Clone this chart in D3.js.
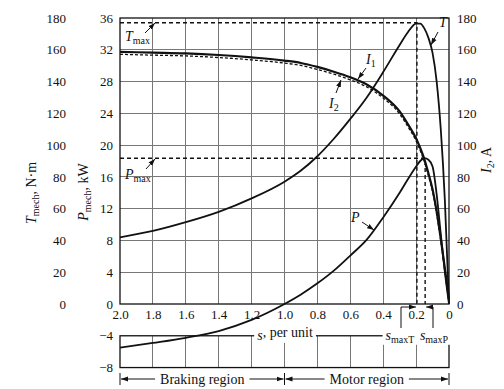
<!DOCTYPE html>
<html>
<head>
<meta charset="utf-8">
<script src="https://cdn.jsdelivr.net/npm/d3@7"></script>
<style>
body { margin: 0; background: #fff; }
svg text { font-family: "Liberation Serif", "DejaVu Serif", serif; fill: #111; }
</style>
</head>
<body>
<svg id="chart" width="504" height="389"></svg>
<script>
var slip     = [2.0, 1.8, 1.6, 1.4, 1.2, 1.0, 0.9, 0.8, 0.7, 0.6, 0.5, 0.4, 0.3, 0.25, 0.2, 0.175, 0.15, 0.125, 0.1, 0.075, 0.05, 0.025, 0];
var torque   = [42, 46, 51.5, 58, 66.5, 77, 84, 93, 104, 116.5, 130, 146, 163, 171, 176.5, 176.5, 173.5, 167.5, 158, 140, 110, 65, 0];  // N·m
var current1 = [158.7, 158.2, 157.7, 156.7, 155.2, 153.2, 151.7, 149.2, 146.2, 142.7, 138.2, 131.2, 121.2, 113.2, 104.2, 98.2, 91.2, 82.2, 72.2, 58.2, 41.2, 22.2, 3]; // A
var current2 = [157.5, 157, 156.5, 155.5, 154, 152, 150.5, 148, 145, 141.5, 137, 130, 120, 112, 103, 97, 90, 81, 71, 57, 40, 21, 1.5];  // A
var power    = [-5.5, -4.9, -4.25, -3.4, -2.0, 0, 1.2, 2.6, 4.2, 6.1, 8.1, 10.9, 14.0, 15.7, 17.3, 18.0, 18.35, 18.15, 17.3, 13.8, 8.8, 4.0, 0]; // kW

// axis ticks
var sTicks  = [2.0, 1.8, 1.6, 1.4, 1.2, 1.0, 0.8, 0.6, 0.4, 0.2, 0];
var sLabels = ["2.0", "1.8", "1.6", "1.4", "1.2", "1.0", "0.8", "0.6", "0.4", "0.2", "0"];
var pTicks  = [0, 4, 8, 12, 16, 20, 24, 28, 32, 36];
var pLow    = [-4, -8];
var tTicks  = [0, 20, 40, 60, 80, 100, 120, 140, 160, 180];
var iTicks  = [0, 20, 40, 60, 80, 100, 120, 140, 160, 180];

// maximum points
var Tmax = 177, sMaxT = 0.195;
var Pmax = 18.35, sMaxP = 0.145;

var svg = d3.select("#chart");
var x  = d3.scaleLinear().domain([2, 0]).range([120, 449]);
var y  = d3.scaleLinear().domain([0, 36]).range([304, 18]);    // P, kW
var y2 = d3.scaleLinear().domain([0, 180]).range([304, 18]);   // T, N·m and I2, A

svg.append("defs").append("marker")
    .attr("id", "arr")
    .attr("viewBox", "0 0 10 10")
    .attr("refX", 10).attr("refY", 5)
    .attr("markerWidth", 7).attr("markerHeight", 7)
    .attr("markerUnits", "userSpaceOnUse")
    .attr("orient", "auto-start-reverse")
    .append("path").attr("d", "M0,1.5L10,5L0,8.5Z").attr("fill", "#111");

// grid
var grid = svg.append("g").attr("stroke", "#777").attr("stroke-width", 1).attr("shape-rendering", "crispEdges");
grid.selectAll(".h").data(pTicks.slice(1, -1)).enter().append("line")
    .attr("x1", x(2)).attr("x2", x(0))
    .attr("y1", function(d) { return y(d) }).attr("y2", function(d) { return y(d) });
grid.selectAll(".v").data(sTicks.slice(1, -1)).enter().append("line")
    .attr("x1", function(d) { return x(d) }).attr("x2", function(d) { return x(d) })
    .attr("y1", y(36)).attr("y2", y(0));
grid.selectAll(".vl").data(sTicks.slice(1, -1)).enter().append("line")
    .attr("x1", function(d) { return x(d) }).attr("x2", function(d) { return x(d) })
    .attr("y1", y(-4)).attr("y2", y(-8));

// frames
var frame = svg.append("g").attr("stroke", "#111").attr("stroke-width", 1.3).attr("fill", "none");
frame.append("rect").attr("x", x(2)).attr("y", y(36)).attr("width", x(0) - x(2)).attr("height", y(0) - y(36));
frame.append("rect").attr("x", x(2)).attr("y", y(-4)).attr("width", x(0) - x(2)).attr("height", y(-8) - y(-4));

function styleAxis(g) {
    g.select(".domain").remove();
    g.attr("font-size", 13).attr("font-family", null);
}
svg.append("g").attr("transform", "translate(120,0)")
    .call(d3.axisLeft(y).tickValues(pTicks).tickSize(0).tickPadding(7)).call(styleAxis);
svg.append("g").attr("transform", "translate(120,0)")
    .call(d3.axisLeft(y).tickValues(pLow).tickSize(0).tickPadding(7)).call(styleAxis);
svg.append("g").attr("transform", "translate(66,0)")
    .call(d3.axisLeft(y2).tickValues(tTicks).tickSize(0).tickPadding(0)).call(styleAxis);
svg.append("g").attr("transform", "translate(449,0)")
    .call(d3.axisRight(y2).tickValues(iTicks).tickSize(0).tickPadding(8)).call(styleAxis);
svg.append("g").attr("transform", "translate(0,304)")
    .call(d3.axisBottom(x).tickValues(sTicks).tickSize(0).tickPadding(6)
        .tickFormat(function(d, i) { return sLabels[i] })).call(styleAxis);

// axis titles
function subLabel(g, main, sub, rest, italicMain) {
    var t = g.append("text").attr("font-size", 14);
    t.append("tspan").attr("font-style", italicMain ? "italic" : null).text(main);
    t.append("tspan").attr("font-size", 10).attr("dy", 3).text(sub);
    if (rest) t.append("tspan").attr("dy", -3).text(rest);
    return t;
}
subLabel(svg.append("g").attr("transform", "translate(36,193) rotate(-90)"), "T", "mech", ", N·m", true)
    .attr("text-anchor", "middle");
subLabel(svg.append("g").attr("transform", "translate(88,192) rotate(-90)"), "P", "mech", ", kW", true)
    .attr("text-anchor", "middle");
subLabel(svg.append("g").attr("transform", "translate(491,160) rotate(-90)"), "I", "2", ", A", true)
    .attr("text-anchor", "middle");

// max dashed guides
var guides = svg.append("g").attr("stroke", "#111").attr("stroke-width", 1.4).attr("fill", "none").attr("stroke-dasharray", "4,3");
guides.append("path").attr("d", "M" + x(2) + "," + y2(Tmax) + "H" + x(sMaxT) + "V" + y(0));
guides.append("path").attr("d", "M" + x(2) + "," + y(Pmax) + "H" + x(sMaxP) + "V" + y(0));

// curves
var pts = slip.map(function(s, i) { return { s: s, T: torque[i], I1: current1[i], I2: current2[i], P: power[i] } });
function curveLine(scale, key, dy) {
    return d3.line().curve(d3.curveMonotoneX)
        .x(function(d) { return x(d.s) })
        .y(function(d) { return scale(d[key]) + (dy || 0) })(pts);
}
var curves = svg.append("g").attr("fill", "none").attr("stroke", "#111");
curves.append("path").attr("d", curveLine(y2, "T")).attr("stroke-width", 1.8);
curves.append("path").attr("d", curveLine(y, "P")).attr("stroke-width", 1.8);
curves.append("path").attr("d", curveLine(y2, "I1")).attr("stroke-width", 2.2);
curves.append("path").attr("d", curveLine(y2, "I2", 0.6)).attr("stroke-width", 1.3).attr("stroke-dasharray", "3,2");

// curve labels with pointers
function pointer(x1, y1, x2, y2) {
    svg.append("line").attr("x1", x1).attr("y1", y1).attr("x2", x2).attr("y2", y2)
        .attr("stroke", "#111").attr("stroke-width", 1).attr("marker-end", "url(#arr)");
}
subLabel(svg.append("g").attr("transform", "translate(125,41)"), "T", "max", null, true);
pointer(145, 33, 155, 23);
subLabel(svg.append("g").attr("transform", "translate(125,179)"), "P", "max", null, true);
pointer(146, 169, 155, 159);
svg.append("text").attr("x", 439).attr("y", 27).attr("font-size", 14).attr("font-style", "italic").text("T");
pointer(438, 32, 431, 45);
subLabel(svg.append("g").attr("transform", "translate(366,64)"), "I", "1", null, true);
pointer(366, 68, 358, 79);
subLabel(svg.append("g").attr("transform", "translate(329,108)"), "I", "2", null, true);
pointer(336, 93, 341, 80);
svg.append("text").attr("x", 351).attr("y", 222).attr("font-size", 14).attr("font-style", "italic").text("P");
pointer(362, 222, 374, 230);

// s axis caption on the top edge of the lower box
function boxLabel(cx, main, sub, rest) {
    var g = svg.append("g").attr("transform", "translate(" + cx + "," + (y(-4) + 4) + ")");
    var bg = g.append("rect").attr("fill", "#fff");
    var t = subLabel(g, main, sub, rest, true).attr("text-anchor", "middle");
    var b = t.node().getBBox();
    bg.attr("x", b.x - 3).attr("y", b.y).attr("width", b.width + 6).attr("height", b.height);
}
boxLabel(285, "s", "", ", per unit");
boxLabel(400, "s", "maxT", null);
boxLabel(434, "s", "maxP", null);

// leaders to s_maxT and s_maxP
var lead = svg.append("g").attr("stroke", "#111").attr("stroke-width", 1).attr("fill", "none");
lead.append("path").attr("d", "M401,328V307H" + (x(sMaxT) - 1)).attr("marker-end", "url(#arr)");
lead.append("path").attr("d", "M433,328V307H" + (x(sMaxP) + 1)).attr("marker-end", "url(#arr)");

// braking / motor region arrows
function region(s0, s1, label) {
    var x0 = x(s0), x1 = x(s1), yy = 379;
    var t = svg.append("text").attr("x", (x0 + x1) / 2).attr("y", yy + 5).attr("font-size", 14)
        .attr("text-anchor", "middle").text(label);
    var w = t.node().getComputedTextLength();
    var g = svg.append("g").attr("stroke", "#111").attr("stroke-width", 1);
    g.append("line").attr("x1", (x0 + x1) / 2 - w / 2 - 5).attr("x2", x0 + 1).attr("y1", yy).attr("y2", yy).attr("marker-end", "url(#arr)");
    g.append("line").attr("x1", (x0 + x1) / 2 + w / 2 + 5).attr("x2", x1 - 1).attr("y1", yy).attr("y2", yy).attr("marker-end", "url(#arr)");
    g.append("line").attr("x1", x0).attr("x2", x0).attr("y1", yy - 6).attr("y2", yy + 6);
    g.append("line").attr("x1", x1).attr("x2", x1).attr("y1", yy - 6).attr("y2", yy + 6);
}
region(2.0, 1.0, "Braking region");
region(1.0, 0, "Motor region");
</script>
</body>
</html>
